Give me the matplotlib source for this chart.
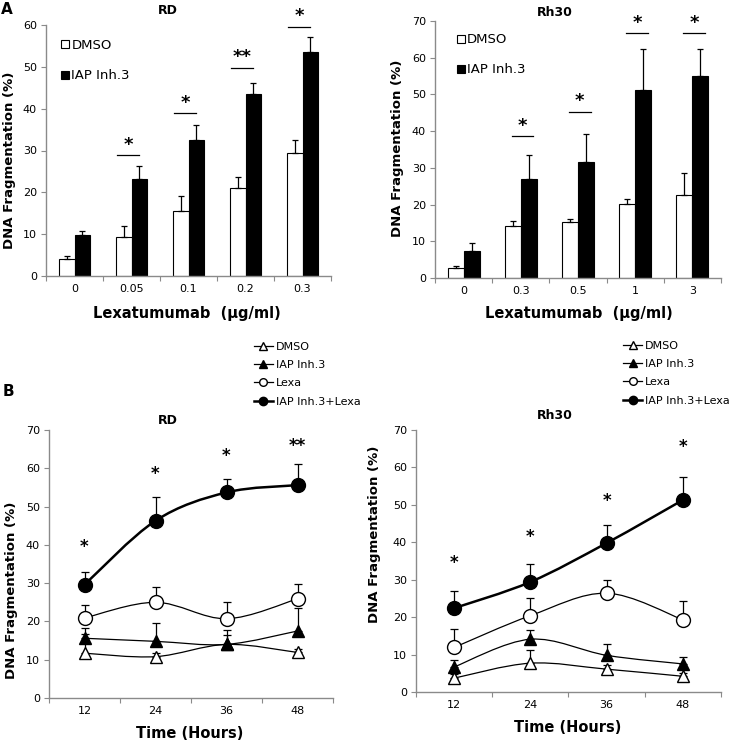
import numpy as np
import matplotlib
matplotlib.use('Agg')
from matplotlib import pyplot as plt
from matplotlib.path import Path
from matplotlib.patches import PathPatch
from matplotlib.lines import Line2D

# PANEL A DATA (bars)
RD_DOSES = ['0', '0.05', '0.1', '0.2', '0.3']
RD_DMSO = [4.1, 9.3, 15.5, 21.1, 29.4]
RD_DMSO_ERR = [0.7, 2.7, 3.7, 2.6, 3.2]
RD_IAP = [9.9, 23.3, 32.6, 43.5, 53.6]
RD_IAP_ERR = [0.9, 3.0, 3.5, 2.7, 3.5]
RD_SIG_Y = [None, 28.9, 38.9, 49.8, 59.6]
RD_SIG = ['', '*', '*', '**', '*']

RH30_DOSES = ['0', '0.3', '0.5', '1', '3']
RH30_DMSO = [2.7, 14.1, 15.2, 20.1, 22.5]
RH30_DMSO_ERR = [0.5, 1.5, 0.9, 1.5, 6.2]
RH30_IAP = [7.4, 26.9, 31.7, 51.2, 55.0]
RH30_IAP_ERR = [2.1, 6.6, 7.6, 11.1, 7.3]
RH30_SIG_Y = [None, 38.7, 45.3, 66.6, 66.6]
RH30_SIG = ['', '*', '*', '*', '*']

# PANEL B DATA (time course)
HOURS = ['12', '24', '36', '48']

RD_T_DMSO = [11.7, 10.8, 14.0, 11.9]
RD_T_DMSO_ERR = [5.1, 1.0, 2.4, 1.0]
RD_T_IAP = [15.6, 14.8, 14.0, 17.5]
RD_T_IAP_ERR = [2.6, 4.8, 3.7, 6.0]
RD_T_LEXA = [20.9, 25.0, 20.7, 25.9]
RD_T_LEXA_ERR = [3.3, 4.1, 4.3, 3.9]
RD_T_COMBO = [29.6, 46.3, 53.7, 55.6]
RD_T_COMBO_ERR = [3.2, 6.3, 3.4, 5.4]
RD_T_STAR_Y = [39.5, 58.5, 63.3, 65.7]
RD_T_STARS = ['*', '*', '*', '**']

RH30_T_DMSO = [3.7, 7.7, 6.1, 4.2]
RH30_T_DMSO_ERR = [1.0, 3.4, 1.0, 1.0]
RH30_T_IAP = [6.7, 14.1, 9.8, 7.5]
RH30_T_IAP_ERR = [1.8, 2.4, 3.1, 1.8]
RH30_T_LEXA = [11.9, 20.4, 26.4, 19.3]
RH30_T_LEXA_ERR = [5.0, 4.6, 3.4, 5.1]
RH30_T_COMBO = [22.4, 29.4, 39.8, 51.3]
RH30_T_COMBO_ERR = [4.5, 4.9, 4.9, 6.1]
RH30_T_STAR_Y = [34.4, 41.4, 50.9, 65.4]
RH30_T_STARS = ['*', '*', '*', '*']

SERIES_NAMES = ['DMSO', 'IAP Inh.3', 'Lexa', 'IAP Inh.3+Lexa']

# STYLE
W, H = 745, 743
AXIS_GRAY = '#8a8a8a'
TICK_SIZE = 8


def px_axes(fig, left, right, top, bottom):
    # axes placed from pixel edges of the reference
    return fig.add_axes([left / W, 1 - bottom / H, (right - left) / W, (bottom - top) / H])


def style_axes(ax, n_cat, ymax, step):
    for side in ['top', 'right']:
        ax.spines[side].set_visible(False)
    for side in ['left', 'bottom']:
        ax.spines[side].set_color(AXIS_GRAY)
        ax.spines[side].set_linewidth(1.0)
    ax.set_xlim(-0.5, n_cat - 0.5)
    ax.set_ylim(0, ymax)
    ax.set_yticks(np.arange(0, ymax + 1, step))
    ax.set_xticks(np.arange(n_cat + 1) - 0.5)
    ax.set_xticklabels([])
    ax.set_xticks(np.arange(n_cat), minor=True)
    ax.tick_params(axis='both', which='major', direction='out', length=3.5, color=AXIS_GRAY,
                   labelsize=TICK_SIZE, pad=3)
    ax.tick_params(axis='x', which='minor', length=0, labelsize=TICK_SIZE, pad=6)


def bar_panel(ax, doses, dmso, dmso_err, iap, iap_err, sig_y, sig, ymax, step, shift):
    x = np.arange(len(doses))
    bw = 0.28
    zeros = np.zeros(len(doses))
    ax.bar(x - bw / 2, dmso, bw, color='white', edgecolor='black', linewidth=0.8, label='DMSO',
           yerr=[zeros, dmso_err], error_kw=dict(ecolor='black', elinewidth=0.9, capsize=2.5, capthick=0.9))
    ax.bar(x + bw / 2, iap, bw, color='black', edgecolor='black', linewidth=0.8, label='IAP Inh.3',
           yerr=[zeros, iap_err], error_kw=dict(ecolor='black', elinewidth=0.9, capsize=2.5, capthick=0.9))
    style_axes(ax, len(doses), ymax, step)
    ax.set_xticklabels(doses, minor=True)

    for i, (y, s) in enumerate(zip(sig_y, sig)):
        if y is None:
            continue
        ax.plot([i + shift - 0.19, i + shift + 0.19], [y, y], color='black', lw=0.9, clip_on=False)
        ax.annotate(s, (i + shift, y), xytext=(0, 1), textcoords='offset points', ha='center',
                    va='bottom', fontsize=13, fontweight='bold', annotation_clip=False)

    ax.set_ylabel('DNA Fragmentation (%)', fontsize=9.5, fontweight='bold')
    ax.set_xlabel('Lexatumumab  (µg/ml)', fontsize=10.5, fontweight='bold')


def smooth_path(xs, ys):
    # excel style smoothed line through the points
    pts = np.column_stack([xs, ys]).astype(float)
    verts = [pts[0]]
    codes = [Path.MOVETO]
    n = len(pts)
    for i in range(n - 1):
        p0 = pts[max(i - 1, 0)]
        p1 = pts[i]
        p2 = pts[i + 1]
        p3 = pts[min(i + 2, n - 1)]
        verts += [p1 + (p2 - p0) / 6, p2 - (p3 - p1) / 6, p2]
        codes += [Path.CURVE4] * 3
    return Path(verts, codes)


def line_panel(ax, series, errs, stars_y, stars):
    x = np.arange(len(HOURS))
    zeros = np.zeros(len(HOURS))
    styles = [
        dict(marker='^', mfc='white', ms=9, lw=0.9),
        dict(marker='^', mfc='black', ms=9, lw=0.9),
        dict(marker='o', mfc='white', ms=10, lw=0.9),
        dict(marker='o', mfc='black', ms=10, lw=1.8),
    ]
    for vals, err, st in zip(series, errs, styles):
        ax.add_patch(PathPatch(smooth_path(x, vals), fill=False, edgecolor='black', lw=st['lw'], zorder=2))
        ax.errorbar(x, vals, yerr=[zeros, err], fmt='none', ecolor='black', elinewidth=0.9,
                    capsize=3, capthick=0.9, zorder=3)
        ax.plot(x, vals, linestyle='none', marker=st['marker'], ms=st['ms'], mfc=st['mfc'],
                mec='black', mew=1.0, zorder=4)
    for i, (y, s) in enumerate(zip(stars_y, stars)):
        ax.text(i, y, s, ha='center', va='center', fontsize=12, fontweight='bold')

    style_axes(ax, len(HOURS), 70, 10)
    ax.set_xticklabels(HOURS, minor=True)
    ax.set_ylabel('DNA Fragmentation (%)', fontsize=9.5, fontweight='bold')
    ax.set_xlabel('Time (Hours)', fontsize=10.5, fontweight='bold')


def line_legend(ax, anchor):
    handles = [
        Line2D([], [], color='black', lw=0.9, marker='^', mfc='white', mec='black', ms=5.5),
        Line2D([], [], color='black', lw=0.9, marker='^', mfc='black', mec='black', ms=5.5),
        Line2D([], [], color='black', lw=0.9, marker='o', mfc='white', mec='black', ms=5.5),
        Line2D([], [], color='black', lw=1.8, marker='o', mfc='black', mec='black', ms=6),
    ]
    ax.legend(handles, SERIES_NAMES, loc='upper left', bbox_to_anchor=anchor, frameon=False,
              fontsize=8, handlelength=1.7, handletextpad=0.3, labelspacing=0.75,
              borderpad=0, borderaxespad=0)


def main():

    plt.rcParams['font.family'] = ['DejaVu Sans']
    fig = plt.figure(figsize=(W / 100, H / 100), dpi=100)

    # Panel A
    ax1 = px_axes(fig, 46, 331, 25, 276)
    bar_panel(ax1, RD_DOSES, RD_DMSO, RD_DMSO_ERR, RD_IAP, RD_IAP_ERR, RD_SIG_Y, RD_SIG, 60, 10, -0.06)
    ax1.text(0.428, 1.056, 'RD', transform=ax1.transAxes, ha='center', va='center',
             fontsize=9, fontweight='bold')
    ax1.legend(loc='upper left', bbox_to_anchor=(0.054, 0.946), frameon=False, fontsize=9.5,
               handlelength=0.55, handleheight=0.55, handletextpad=0.2, labelspacing=1.35,
               borderpad=0, borderaxespad=0)
    ax1.yaxis.set_label_coords(-0.105, 0.46)
    ax1.xaxis.set_label_coords(0.495, -0.119)

    ax2 = px_axes(fig, 435, 721, 21, 278)
    bar_panel(ax2, RH30_DOSES, RH30_DMSO, RH30_DMSO_ERR, RH30_IAP, RH30_IAP_ERR, RH30_SIG_Y, RH30_SIG,
              70, 10, 0.03)
    ax2.text(0.42, 1.035, 'Rh30', transform=ax2.transAxes, ha='center', va='center',
             fontsize=9, fontweight='bold')
    ax2.legend(loc='upper left', bbox_to_anchor=(0.078, 0.952), frameon=False, fontsize=9.5,
               handlelength=0.55, handleheight=0.55, handletextpad=0.2, labelspacing=1.3,
               borderpad=0, borderaxespad=0)
    ax2.yaxis.set_label_coords(-0.108, 0.506)
    ax2.xaxis.set_label_coords(0.503, -0.109)

    # Panel B
    ax3 = px_axes(fig, 49, 333, 430, 698)
    line_panel(ax3, [RD_T_DMSO, RD_T_IAP, RD_T_LEXA, RD_T_COMBO],
               [RD_T_DMSO_ERR, RD_T_IAP_ERR, RD_T_LEXA_ERR, RD_T_COMBO_ERR], RD_T_STAR_Y, RD_T_STARS)
    ax3.text(0.419, 1.037, 'RD', transform=ax3.transAxes, ha='center', va='center',
             fontsize=9, fontweight='bold')
    line_legend(ax3, (0.721, 1.33))
    ax3.yaxis.set_label_coords(-0.109, 0.40)
    ax3.xaxis.set_label_coords(0.496, -0.103)

    ax4 = px_axes(fig, 416, 721, 430, 692)
    line_panel(ax4, [RH30_T_DMSO, RH30_T_IAP, RH30_T_LEXA, RH30_T_COMBO],
               [RH30_T_DMSO_ERR, RH30_T_IAP_ERR, RH30_T_LEXA_ERR, RH30_T_COMBO_ERR],
               RH30_T_STAR_Y, RH30_T_STARS)
    ax4.text(0.456, 1.057, 'Rh30', transform=ax4.transAxes, ha='center', va='center',
             fontsize=9, fontweight='bold')
    line_legend(ax4, (0.679, 1.341))
    ax4.yaxis.set_label_coords(-0.115, 0.6)
    ax4.xaxis.set_label_coords(0.496, -0.105)

    # Panel letters
    fig.text(7 / W, 1 - 9 / H, 'A', ha='center', va='center', fontsize=11, fontweight='bold')
    fig.text(8 / W, 1 - 392 / H, 'B', ha='center', va='center', fontsize=11, fontweight='bold')

    fig.savefig('out.png', dpi=100)

    return


if __name__ == '__main__':
    main()
